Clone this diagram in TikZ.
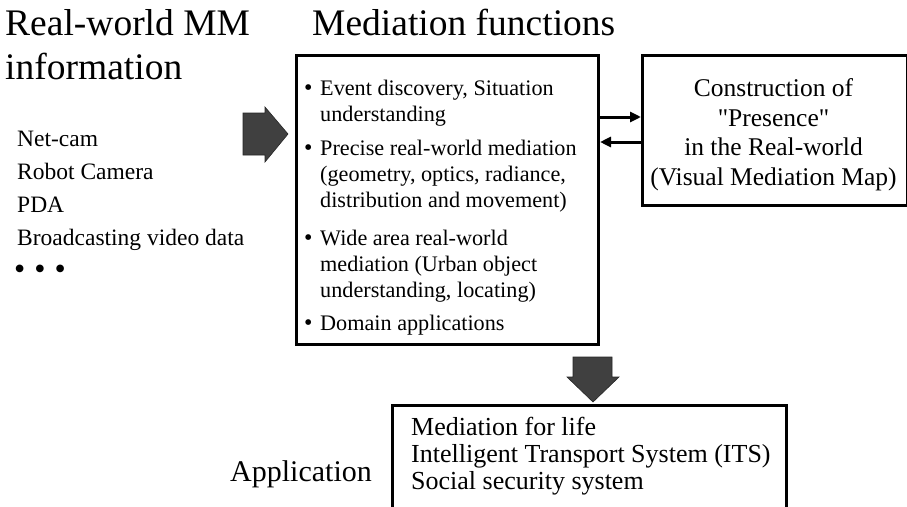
\documentclass[tikz,border=0pt]{standalone}
\usepackage{fontspec}
\setmainfont{Liberation Serif}[Ligatures=TeXOff]
\usetikzlibrary{arrows.meta}
\begin{document}
\begin{tikzpicture}[x=1pt,y=-1pt,
  box/.style={draw, line width=3pt, inner sep=0pt, anchor=north west},
  title/.style={anchor=base west, inner sep=0pt, font=\fontsize{37.5}{38}\selectfont},
  src/.style={anchor=base west, inner sep=0pt, font=\fontsize{23.5}{28}\selectfont},
  itm/.style={anchor=base west, inner sep=0pt, font=\fontsize{22.2}{26}\selectfont},
  bul/.style={anchor=base west, inner sep=0pt, font=\fontsize{24}{26}\selectfont},
  pres/.style={anchor=base, inner sep=0pt, font=\fontsize{25.5}{30}\selectfont},
  appl/.style={anchor=base west, inner sep=0pt, font=\fontsize{26}{30}\selectfont},
  link/.style={line width=3pt, -{Triangle[length=11pt,width=10pt]}},
  bigarrow/.style={fill=black!75, draw=black!85, line width=0.6pt}
]
\useasboundingbox (0,0) rectangle (907,506);

% titles
\node[title] (t1) at (5,35) {Real-world MM};
\node[title] (t2) at (5,79) {information};
\node[title] (t3) at (312,35) {Mediation functions};

% sources
\node[src] (s1) at (17,146) {Net-cam};
\node[src] (s2) at (17,179) {Robot Camera};
\node[src] (s3) at (17,212) {PDA};
\node[src] (s4) at (17,245) {Broadcasting video data};
\node[src, font=\fontsize{32}{32}\selectfont] (s5) at (14,279) {•\hspace{9pt}•\hspace{9pt}•};

% big right arrow
\draw[bigarrow] (243,113) -- (265,113) -- (265,107) -- (288,134) -- (265,162) -- (265,155) -- (243,155) -- cycle;

% main box
\node[box, minimum width=302pt, minimum height=289pt] (main) at (295,54) {};
\node[bul] (b1) at (304,95) {•};
\node[itm] (m1) at (320,95) {Event discovery, Situation};
\node[itm] (m2) at (320,121) {understanding};
\node[bul] (b2) at (304,155) {•};
\node[itm] (m3) at (320,155) {Precise real-world mediation};
\node[itm] (m4) at (320,181) {(geometry, optics, radiance,};
\node[itm] (m5) at (320,207) {distribution and movement)};
\node[bul] (b3) at (304,245) {•};
\node[itm] (m6) at (320,245) {Wide area real-world};
\node[itm] (m7) at (320,271) {mediation (Urban object};
\node[itm] (m8) at (320,297) {understanding, locating)};
\node[bul] (b4) at (304,330) {•};
\node[itm] (m9) at (320,330) {Domain applications};

% presence box
\node[box, minimum width=265pt, minimum height=150pt] (pbox) at (641,54) {};
\node[pres] (p1) at (773.5,96) {Construction of};
\node[pres] (p2) at (773.5,126) {"Presence"};
\node[pres] (p3) at (773.5,155) {in the Real-world};
\node[pres] (p4) at (773.5,185) {(Visual Mediation Map)};

% connectors
\coordinate (r1) at (0,117);
\coordinate (r2) at (0,142);
\draw[link] (main.east |- r1) -- (pbox.west |- r1);
\draw[link] (pbox.west |- r2) -- (main.east |- r2);

% down arrow
\draw[bigarrow] (573,357) -- (612,357) -- (612,377) -- (619,377) -- (593,402) -- (567,377) -- (573,377) -- cycle;

% application box
\node[anchor=base west, inner sep=0pt, font=\fontsize{30}{30}\selectfont] (app) at (230,481) {Application};
\node[box, minimum width=394pt, minimum height=140pt] (abox) at (391,404) {};
\node[appl] (a1) at (411,435) {Mediation for life};
\node[appl] (a2) at (411,462) {Intelligent Transport System (ITS)};
\node[appl] (a3) at (411,489) {Social security system};
\end{tikzpicture}
\end{document}
